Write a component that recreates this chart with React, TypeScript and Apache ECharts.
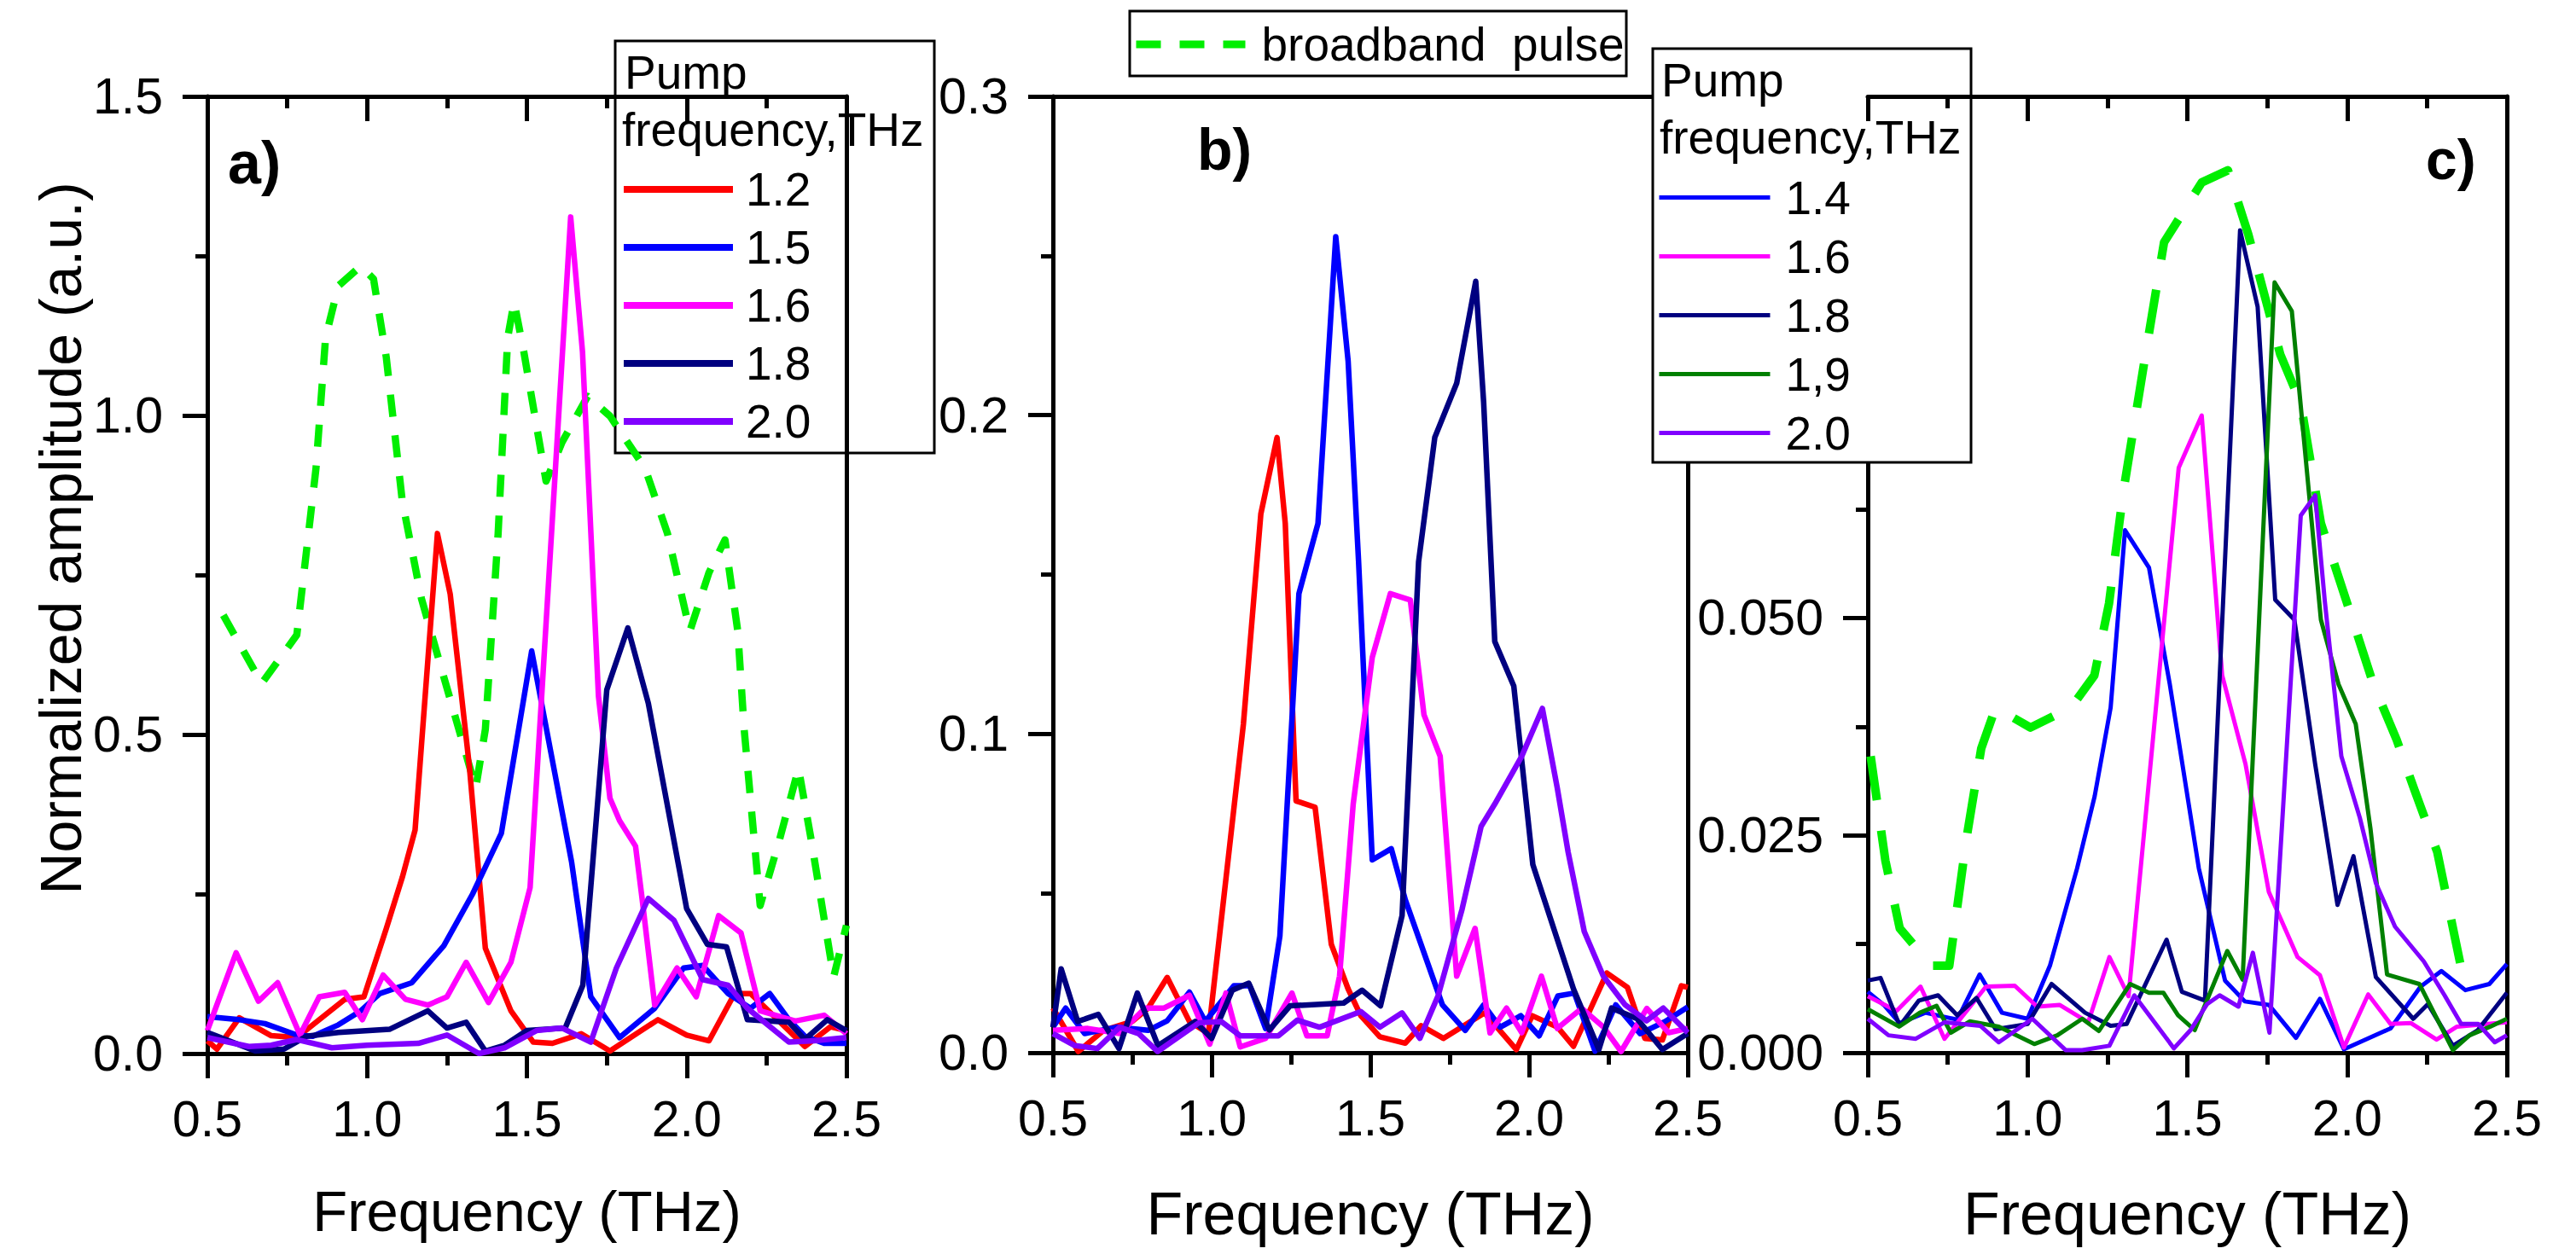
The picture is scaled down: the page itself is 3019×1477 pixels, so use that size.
import * as echarts from "echarts"
import { useEffect, useRef } from "react"

const FONT = "'Liberation Sans', Arial, Helvetica, sans-serif"
const INK = "#000"

const RED = "#ff0000"
const BLUE = "#0000ff"
const MAGENTA = "#ff00ff"
const NAVY = "#000080"
const VIOLET = "#8000ff"
const OLIVE = "#008000"
const LIME = "#00ee00"

const FREQ_MIN = 0.5
const FREQ_MAX = 2.5
const FREQ_STEP = 0.5

// a) pump frequency legend + curves, amplitude normalised (0 … 1.5)
const aLegend = ["1.2", "1.5", "1.6", "1.8", "2.0"]
const aPump12 = [[0.5, 0.02], [0.53, 0.007], [0.6, 0.056], [0.7, 0.028], [0.78, 0.025], [0.93, 0.085], [0.99, 0.089], [1.06, 0.196], [1.11, 0.276], [1.15, 0.35], [1.22, 0.815], [1.26, 0.72], [1.32, 0.45], [1.37, 0.165], [1.45, 0.067], [1.52, 0.018], [1.58, 0.016], [1.67, 0.031], [1.76, 0.004], [1.91, 0.053], [2.0, 0.029], [2.07, 0.02], [2.15, 0.094], [2.2, 0.094], [2.32, 0.036], [2.37, 0.011], [2.45, 0.042], [2.5, 0.036]]
const aPump15 = [[0.5, 0.058], [0.6, 0.053], [0.68, 0.047], [0.78, 0.029], [0.83, 0.027], [0.91, 0.045], [0.98, 0.067], [1.04, 0.094], [1.14, 0.111], [1.24, 0.169], [1.33, 0.25], [1.42, 0.345], [1.515, 0.631], [1.64, 0.3], [1.7, 0.089], [1.79, 0.025], [1.9, 0.071], [1.99, 0.134], [2.05, 0.138], [2.13, 0.094], [2.2, 0.071], [2.26, 0.094], [2.32, 0.053], [2.37, 0.027], [2.43, 0.016], [2.5, 0.016]]
const aPump16 = [[0.5, 0.036], [0.59, 0.158], [0.66, 0.082], [0.72, 0.111], [0.79, 0.029], [0.85, 0.089], [0.93, 0.096], [0.985, 0.053], [1.05, 0.123], [1.12, 0.085], [1.19, 0.076], [1.25, 0.089], [1.31, 0.143], [1.38, 0.08], [1.45, 0.143], [1.51, 0.26], [1.637, 1.311], [1.674, 1.1], [1.724, 0.56], [1.76, 0.4], [1.79, 0.365], [1.84, 0.325], [1.86, 0.245], [1.9, 0.076], [1.97, 0.134], [2.03, 0.089], [2.1, 0.216], [2.17, 0.189], [2.23, 0.067], [2.34, 0.051], [2.43, 0.06], [2.5, 0.031]]
const aPump18 = [[0.5, 0.033], [0.65, 0.004], [0.74, 0.007], [0.81, 0.027], [0.91, 0.033], [1.07, 0.038], [1.19, 0.067], [1.25, 0.04], [1.31, 0.049], [1.37, 0.004], [1.43, 0.013], [1.5, 0.036], [1.62, 0.04], [1.675, 0.107], [1.75, 0.57], [1.816, 0.667], [1.88, 0.549], [2.0, 0.227], [2.065, 0.171], [2.125, 0.167], [2.19, 0.053], [2.32, 0.049], [2.37, 0.022], [2.44, 0.053], [2.5, 0.036]]
const aPump20 = [[0.5, 0.025], [0.63, 0.011], [0.7, 0.013], [0.78, 0.022], [0.89, 0.009], [1.0, 0.013], [1.16, 0.016], [1.25, 0.029], [1.35, 0.0], [1.43, 0.009], [1.53, 0.036], [1.61, 0.04], [1.7, 0.018], [1.78, 0.134], [1.88, 0.243], [1.96, 0.209], [2.05, 0.116], [2.13, 0.107], [2.19, 0.071], [2.32, 0.018], [2.4, 0.02], [2.5, 0.025]]
const aBroadband = [[0.55, 0.687], [0.67, 0.58], [0.78, 0.656], [0.84, 0.917], [0.87, 1.122], [0.91, 1.203], [0.98, 1.234], [1.02, 1.214], [1.06, 1.091], [1.11, 0.866], [1.17, 0.713], [1.24, 0.59], [1.34, 0.416], [1.37, 0.508], [1.41, 0.815], [1.44, 1.122], [1.46, 1.178], [1.49, 1.101], [1.56, 0.897], [1.61, 0.958], [1.69, 1.03], [1.76, 0.999], [1.87, 0.917], [1.94, 0.815], [2.01, 0.662], [2.07, 0.754], [2.12, 0.805], [2.16, 0.662], [2.18, 0.508], [2.23, 0.232], [2.29, 0.334], [2.35, 0.447], [2.39, 0.334], [2.46, 0.12], [2.5, 0.201]]

// b) amplitude (0 … 0.3)
const bPump12 = [[0.5, 0.014], [0.58, 0.0004], [0.66, 0.007], [0.75, 0.0098], [0.8, 0.014], [0.86, 0.0236], [0.93, 0.0098], [0.99, 0.006], [1.1, 0.103], [1.155, 0.169], [1.206, 0.193], [1.232, 0.166], [1.266, 0.079], [1.326, 0.077], [1.377, 0.034], [1.43, 0.02], [1.47, 0.0116], [1.53, 0.005], [1.61, 0.003], [1.66, 0.0085], [1.73, 0.0045], [1.86, 0.0125], [1.96, 0.001], [2.01, 0.0116], [2.09, 0.008], [2.14, 0.002], [2.245, 0.025], [2.31, 0.0205], [2.365, 0.0045], [2.42, 0.004], [2.48, 0.021], [2.5, 0.0205]]
const bPump14 = [[0.5, 0.008], [0.54, 0.014], [0.6, 0.006], [0.7, 0.008], [0.8, 0.007], [0.86, 0.01], [0.93, 0.019], [0.98, 0.0098], [1.07, 0.021], [1.12, 0.021], [1.17, 0.0076], [1.215, 0.0366], [1.275, 0.144], [1.335, 0.166], [1.391, 0.256], [1.43, 0.217], [1.463, 0.154], [1.506, 0.0605], [1.566, 0.064], [1.61, 0.048], [1.727, 0.015], [1.799, 0.007], [1.857, 0.015], [1.909, 0.008], [1.974, 0.0116], [2.032, 0.0053], [2.091, 0.0178], [2.143, 0.0187], [2.208, 0.0005], [2.273, 0.015], [2.35, 0.006], [2.429, 0.0098], [2.5, 0.0143]]
const bPump16 = [[0.5, 0.007], [0.61, 0.0076], [0.71, 0.006], [0.79, 0.014], [0.85, 0.014], [0.93, 0.018], [0.994, 0.0027], [1.045, 0.0187], [1.09, 0.0018], [1.17, 0.0045], [1.253, 0.0187], [1.3, 0.0053], [1.364, 0.0053], [1.403, 0.024], [1.446, 0.078], [1.506, 0.124], [1.563, 0.144], [1.626, 0.142], [1.669, 0.106], [1.72, 0.093], [1.772, 0.024], [1.83, 0.039], [1.877, 0.0062], [1.929, 0.014], [1.977, 0.0063], [2.039, 0.024], [2.089, 0.0076], [2.166, 0.0139], [2.235, 0.008], [2.29, 0.0004], [2.371, 0.0139], [2.44, 0.0063], [2.5, 0.0076]]
const bPump18 = [[0.5, 0.008], [0.526, 0.0263], [0.578, 0.0098], [0.643, 0.012], [0.708, 0.0013], [0.766, 0.0187], [0.831, 0.0022], [0.948, 0.0098], [1.0, 0.0045], [1.065, 0.0196], [1.117, 0.0218], [1.182, 0.0071], [1.247, 0.0147], [1.416, 0.0156], [1.474, 0.0196], [1.532, 0.0147], [1.6, 0.043], [1.652, 0.154], [1.703, 0.193], [1.772, 0.21], [1.832, 0.242], [1.857, 0.204], [1.892, 0.129], [1.952, 0.115], [2.012, 0.059], [2.14, 0.02], [2.22, 0.001], [2.26, 0.014], [2.34, 0.0107], [2.42, 0.001], [2.5, 0.006]]
const bPump20 = [[0.5, 0.006], [0.57, 0.0022], [0.64, 0.0013], [0.71, 0.008], [0.77, 0.006], [0.83, 0.0004], [0.96, 0.0094], [1.03, 0.0098], [1.09, 0.0053], [1.21, 0.0053], [1.27, 0.0102], [1.34, 0.008], [1.47, 0.0129], [1.53, 0.008], [1.6, 0.0125], [1.656, 0.0045], [1.714, 0.018], [1.789, 0.045], [1.849, 0.071], [1.892, 0.078], [1.977, 0.093], [2.042, 0.108], [2.089, 0.083], [2.123, 0.063], [2.174, 0.038], [2.234, 0.024], [2.303, 0.015], [2.37, 0.01], [2.423, 0.014], [2.5, 0.0063]]

// c) amplitude (0 … 0.11)
const cLegend = ["1.4", "1.6", "1.8", "1,9", "2.0"]
const cPump14 = [[0.5, 0.007], [0.55, 0.0055], [0.6, 0.0034], [0.68, 0.0046], [0.78, 0.0038], [0.85, 0.009], [0.92, 0.0046], [1.0, 0.0039], [1.07, 0.01], [1.155, 0.0212], [1.21, 0.0295], [1.26, 0.0397], [1.305, 0.0601], [1.38, 0.0558], [1.445, 0.0424], [1.536, 0.0212], [1.618, 0.0083], [1.68, 0.0059], [1.755, 0.0055], [1.84, 0.0017], [1.915, 0.0062], [1.99, 0.0004], [2.136, 0.0028], [2.23, 0.0076], [2.295, 0.0094], [2.37, 0.0072], [2.445, 0.0079], [2.5, 0.0102]]
const cPump16 = [[0.5, 0.0065], [0.59, 0.0048], [0.665, 0.0076], [0.74, 0.0016], [0.87, 0.0076], [0.96, 0.0077], [1.03, 0.0053], [1.1, 0.0055], [1.19, 0.0035], [1.256, 0.011], [1.316, 0.0065], [1.473, 0.0673], [1.545, 0.0733], [1.609, 0.0434], [1.682, 0.0332], [1.755, 0.0185], [1.845, 0.011], [1.915, 0.0089], [1.99, 0.0006], [2.066, 0.0067], [2.136, 0.0033], [2.2, 0.0034], [2.28, 0.0015], [2.344, 0.003], [2.5, 0.0035]]
const cPump18 = [[0.5, 0.0083], [0.54, 0.0086], [0.6, 0.0031], [0.66, 0.006], [0.72, 0.0066], [0.78, 0.0043], [0.84, 0.0063], [0.9, 0.0027], [1.0, 0.0033], [1.075, 0.0079], [1.18, 0.0046], [1.26, 0.0031], [1.31, 0.0033], [1.435, 0.013], [1.483, 0.007], [1.555, 0.006], [1.665, 0.0946], [1.72, 0.0858], [1.775, 0.0521], [1.835, 0.0498], [1.9, 0.0332], [1.97, 0.017], [2.02, 0.0226], [2.09, 0.0087], [2.207, 0.0039], [2.253, 0.0056], [2.331, 0.0008], [2.409, 0.0026], [2.5, 0.0069]]
const cPump19 = [[0.5, 0.005], [0.598, 0.003], [0.663, 0.0046], [0.715, 0.0054], [0.76, 0.0023], [0.819, 0.0036], [0.91, 0.003], [1.021, 0.001], [1.093, 0.002], [1.171, 0.0039], [1.223, 0.0025], [1.321, 0.0079], [1.38, 0.0069], [1.425, 0.0069], [1.471, 0.0043], [1.523, 0.0026], [1.625, 0.0117], [1.673, 0.0084], [1.773, 0.0886], [1.827, 0.0853], [1.918, 0.0498], [1.973, 0.0424], [2.027, 0.0378], [2.073, 0.0258], [2.125, 0.009], [2.226, 0.0079], [2.331, 0.0003], [2.383, 0.002], [2.448, 0.003], [2.5, 0.0039]]
const cPump20 = [[0.5, 0.0039], [0.565, 0.002], [0.65, 0.0016], [0.74, 0.0035], [0.852, 0.0031], [0.91, 0.0012], [1.015, 0.0039], [1.119, 0.0003], [1.171, 0.0003], [1.256, 0.0008], [1.334, 0.0066], [1.458, 0.0005], [1.51, 0.0026], [1.562, 0.0056], [1.601, 0.0066], [1.66, 0.0053], [1.705, 0.0115], [1.757, 0.0023], [1.855, 0.0618], [1.9, 0.0641], [1.93, 0.052], [1.982, 0.0341], [2.04, 0.027], [2.09, 0.0195], [2.15, 0.0145], [2.24, 0.0105], [2.305, 0.0066], [2.357, 0.0033], [2.41, 0.0033], [2.462, 0.0012], [2.5, 0.002]]
const cBroadband = [[0.509, 0.0341], [0.555, 0.0221], [0.6, 0.0143], [0.7, 0.01], [0.755, 0.01], [0.81, 0.0249], [0.855, 0.035], [0.9, 0.0397], [1.009, 0.0374], [1.136, 0.0397], [1.209, 0.0434], [1.255, 0.0517], [1.3, 0.0646], [1.373, 0.0812], [1.427, 0.0932], [1.545, 0.1001], [1.627, 0.1015], [1.691, 0.0941], [1.791, 0.0803], [1.855, 0.0747], [1.918, 0.0609], [2.009, 0.0507], [2.082, 0.0424], [2.155, 0.036], [2.209, 0.0304], [2.282, 0.0231], [2.355, 0.0101], [2.382, 0.0074]]
// the legend of c) hides the upper tick labels of its own y axis
const cVisibleLabelMax = 0.05

const BROADBAND = "broadband  pulse"

const stroke = { color: INK, width: 5 }

function bottomAxis(gridIndex: number, nameSize: number, nameGap: number) {
  return {
    gridIndex,
    type: "value",
    position: "bottom",
    min: FREQ_MIN,
    max: FREQ_MAX,
    interval: FREQ_STEP,
    name: "Frequency (THz)",
    nameLocation: "middle",
    nameGap,
    nameTextStyle: { fontFamily: FONT, fontSize: nameSize, color: INK },
    axisLine: { onZero: false, lineStyle: stroke },
    axisTick: { length: 29, lineStyle: stroke },
    minorTick: { show: true, splitNumber: 2, length: 14, lineStyle: stroke },
    axisLabel: {
      margin: 47,
      fontFamily: FONT,
      fontSize: 59,
      color: INK,
      formatter: (v: number) => v.toFixed(1),
    },
    splitLine: { show: false },
  }
}

function topAxis(gridIndex: number, ticks: boolean, z = 0) {
  return {
    gridIndex,
    type: "value",
    position: "top",
    min: FREQ_MIN,
    max: FREQ_MAX,
    interval: FREQ_STEP,
    z,
    axisLine: { onZero: false, lineStyle: stroke },
    axisTick: { show: ticks, inside: true, length: 29, lineStyle: stroke },
    minorTick: { show: ticks, splitNumber: 2, length: 14, lineStyle: stroke },
    axisLabel: { show: false },
    splitLine: { show: false },
  }
}

function leftAxis(
  gridIndex: number,
  max: number,
  interval: number,
  digits: number,
  labelMax = Infinity
) {
  return {
    gridIndex,
    type: "value",
    position: "left",
    min: 0,
    max,
    interval,
    axisLine: { onZero: false, lineStyle: stroke },
    axisTick: { length: 29, lineStyle: stroke },
    minorTick: { show: true, splitNumber: 2, length: 14, lineStyle: stroke },
    axisLabel: {
      margin: 52,
      fontFamily: FONT,
      fontSize: 59,
      color: INK,
      formatter: (v: number) => (v > labelMax + 1e-9 ? "" : v.toFixed(digits)),
    },
    splitLine: { show: false },
  }
}

function rightAxis(gridIndex: number, max: number) {
  return {
    gridIndex,
    type: "value",
    position: "right",
    min: 0,
    max,
    axisLine: { onZero: false, lineStyle: stroke },
    axisTick: { show: false },
    axisLabel: { show: false },
    splitLine: { show: false },
  }
}

function curve(
  name: string,
  data: number[][],
  color: string,
  axis: number,
  width: number,
  type: string | number[] = "solid"
) {
  return {
    name,
    type: "line",
    data,
    xAxisIndex: axis,
    yAxisIndex: axis,
    symbol: "none",
    silent: true,
    lineStyle: { color, width, type, join: "round" },
    itemStyle: { color },
    emphasis: { disabled: true },
  }
}

function label(text: string, x: number, y: number, size: number, extra: object = {}) {
  return {
    type: "text",
    x,
    y,
    z: 6,
    style: {
      text,
      fontFamily: FONT,
      fontSize: size,
      fill: INK,
      align: "left",
      verticalAlign: "middle",
      textAlign: "left",
      textVerticalAlign: "middle",
      ...extra,
    },
  }
}

function legendBlock(
  data: string[],
  left: number,
  top: number,
  iconWidth: number,
  pitch: number,
  gap: number,
  lineWidth: number
) {
  return {
    data,
    orient: "vertical",
    left,
    top,
    padding: 0,
    itemGap: 0,
    itemWidth: iconWidth,
    itemHeight: 14,
    selectedMode: false,
    itemStyle: { opacity: 0 },
    lineStyle: { width: lineWidth },
    textStyle: {
      fontFamily: FONT,
      fontSize: 55,
      lineHeight: pitch,
      color: INK,
      padding: [0, 0, 0, gap],
    },
  }
}

export default function App() {
  const node = useRef<HTMLDivElement>(null)

  useEffect(() => {
    if (!node.current) return
    const chart = echarts.init(node.current, undefined, { renderer: "svg" })
    chart.setOption({
      animation: false,
      backgroundColor: "#fff",
      grid: [
        { left: 243, top: 113, width: 749, height: 1122 },
        { left: 1234, top: 113, width: 744, height: 1121 },
        { left: 2189, top: 113, width: 749, height: 1121 },
      ],
      xAxis: [
        bottomAxis(0, 67, 151),
        topAxis(0, true),
        bottomAxis(1, 70, 154),
        topAxis(1, false),
        bottomAxis(2, 70, 154),
        topAxis(2, true, 3),
      ],
      yAxis: [
        leftAxis(0, 1.5, 0.5, 1),
        rightAxis(0, 1.5),
        leftAxis(1, 0.3, 0.1, 1),
        rightAxis(1, 0.3),
        leftAxis(2, 0.11, 0.025, 3, cVisibleLabelMax),
        rightAxis(2, 0.11),
      ],
      legend: [
        legendBlock(aLegend, 727, 188, 128, 68, 10, 8),
        legendBlock(cLegend, 1942, 197, 130, 69, 13, 5),
        {
          ...legendBlock([BROADBAND], 1327, 22, 128, 60, 14, 9),
          lineStyle: { width: 9, type: [29, 22] },
        },
      ],
      graphic: {
        elements: [
          // legend frames
          {
            type: "rect",
            z: 1,
            shape: { x: 721, y: 48, width: 374, height: 483 },
            style: { fill: "none", stroke: INK, lineWidth: 3 },
          },
          {
            type: "rect",
            z: 1,
            shape: { x: 1937, y: 57, width: 373, height: 485 },
            style: { fill: "#fff", stroke: INK, lineWidth: 3 },
          },
          {
            type: "rect",
            z: 1,
            shape: { x: 1324, y: 13, width: 582, height: 76 },
            style: { fill: "#fff", stroke: INK, lineWidth: 3 },
          },
          label("Pump", 732, 85, 55),
          label("frequency,THz", 729, 152, 55),
          label("Pump", 1947, 94, 55),
          label("frequency,THz", 1945, 161, 55),
          // panel tags
          label("a)", 267, 191, 70, { fontWeight: "bold" }),
          label("b)", 1403, 175, 68, { fontWeight: "bold" }),
          label("c)", 2843, 187, 66, { fontWeight: "bold" }),
          {
            type: "text",
            x: 71,
            y: 631,
            rotation: Math.PI / 2,
            z: 6,
            style: {
              text: "Normalized amplitude (a.u.)",
              fontFamily: FONT,
              fontSize: 68,
              fill: INK,
              align: "center",
              verticalAlign: "middle",
              textAlign: "center",
              textVerticalAlign: "middle",
            },
          },
        ],
      },
      series: [
        curve(BROADBAND, aBroadband, LIME, 0, 8.5, [26, 22]),
        curve("1.2", aPump12, RED, 0, 6.5),
        curve("1.5", aPump15, BLUE, 0, 6.5),
        curve("1.6", aPump16, MAGENTA, 0, 6.5),
        curve("1.8", aPump18, NAVY, 0, 6.5),
        curve("2.0", aPump20, VIOLET, 0, 6.5),

        curve("1.2", bPump12, RED, 2, 6.5),
        curve("1.4", bPump14, BLUE, 2, 6.5),
        curve("1.6", bPump16, MAGENTA, 2, 6.5),
        curve("1.8", bPump18, NAVY, 2, 6.5),
        curve("2.0", bPump20, VIOLET, 2, 6.5),

        curve(BROADBAND, cBroadband, LIME, 4, 10, [52, 36]),
        curve("1.4", cPump14, BLUE, 4, 5),
        curve("1.6", cPump16, MAGENTA, 4, 5),
        curve("1.8", cPump18, NAVY, 4, 5),
        curve("1,9", cPump19, OLIVE, 4, 5),
        curve("2.0", cPump20, VIOLET, 4, 5),
      ],
    })
    return () => chart.dispose()
  }, [])

  return (
    <div
      ref={node}
      style={{ position: "absolute", left: 0, top: 0, width: 3019, height: 1477 }}
    />
  )
}
